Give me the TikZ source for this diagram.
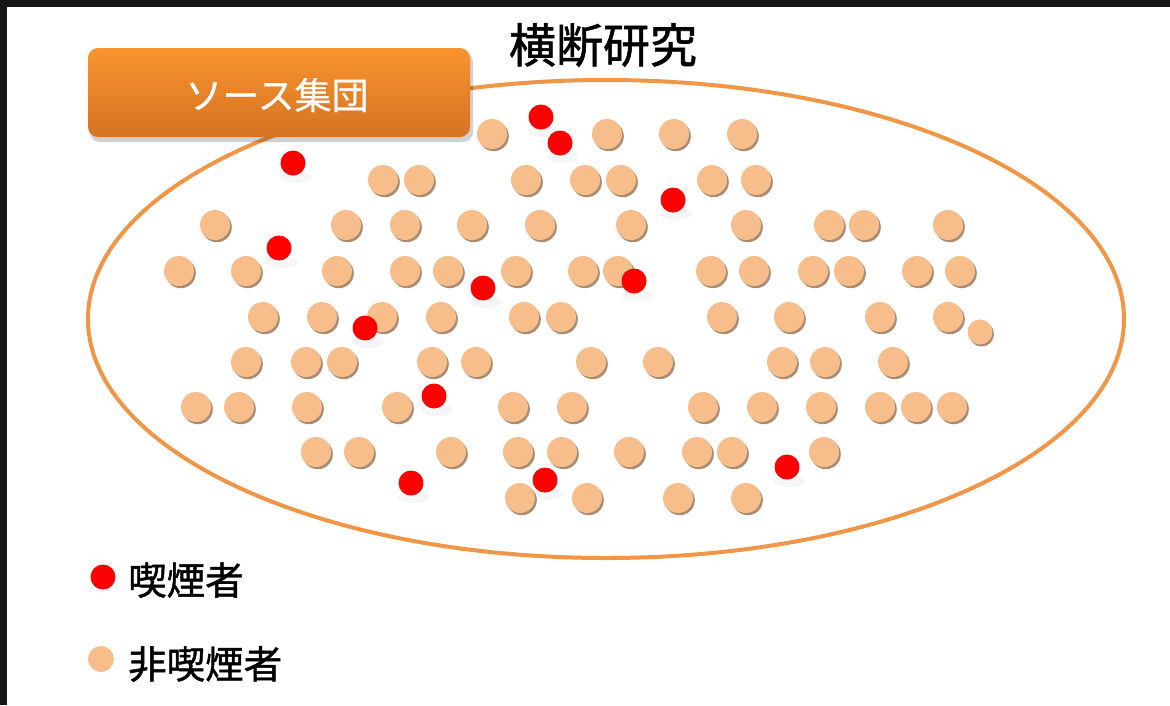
\documentclass[tikz,border=0pt]{standalone}
\usepackage{fontspec}
\setmainfont{Noto Sans CJK JP}
\newfontfamily\cjk[FakeBold=1.2]{Noto Sans CJK JP}
\newfontfamily\cjklight[FakeBold=0.6]{Noto Sans CJK JP}
\definecolor{peach}{RGB}{247,190,140}
\definecolor{peachshadow}{RGB}{170,140,115}
\definecolor{smokered}{RGB}{255,0,0}
\definecolor{ringorange}{RGB}{240,150,70}
\definecolor{boxtop}{RGB}{249,148,46}
\definecolor{boxbottom}{RGB}{212,115,35}
\definecolor{framedark}{RGB}{22,22,22}
\tikzset{
  peachdot/.style={circle, fill=peach, draw=none, inner sep=0pt, minimum size=30pt},
  smalldot/.style={circle, fill=peach, draw=none, inner sep=0pt, minimum size=25pt},
  reddot/.style={circle, fill=smokered, draw=none, inner sep=0pt, minimum size=25pt},
  legendtext/.style={anchor=west, inner sep=0pt, font=\cjk\fontsize{38.5}{38.5}\selectfont, text=black},
}
\begin{document}
\begin{tikzpicture}[x=1pt,y=-1pt]
\useasboundingbox (0,0) rectangle (1170,705);
\fill[white] (0,0) rectangle (1170,705);
\fill[framedark] (0,0) rectangle (1170,7);
\fill[framedark] (0,0) rectangle (7,705);
% ellipse
\draw[ringorange, line width=4pt] (606,319) ellipse [x radius=518pt, y radius=239pt];
% box shadow and box
\fill[black, opacity=0.18, rounded corners=10pt] (90,52) rectangle (473,142);
\shade[top color=boxtop, bottom color=boxbottom, rounded corners=10pt] (88,48) rectangle (470,137);
\node[inner sep=0pt, text=white, font=\cjklight\fontsize{37}{37}\selectfont] (src) at (277,95) {ソース集団};
% title
\node[inner sep=0pt, text=black, font=\cjk\fontsize{47}{47}\selectfont] (title) at (603,45) {横断研究};
% peach dots
\foreach \px/\py [count=\i] in {
492/134, 607/134, 674/134, 742/134,
383/180, 419/180, 526/180, 585/180, 621/180, 712/180, 756/180,
215/225, 346/225, 405/225, 472/225, 540/225, 631/225, 746/225, 829/225, 864/225, 948/225,
179/271, 246/271, 337/271, 405/271, 448/271, 516/271, 583/271, 618/271, 711/271, 754/271, 813/271, 849/271, 917/271, 960/271,
263/317, 322/317, 382/317, 441/317, 524/317, 561/317, 722/317, 789/317, 880/317, 948/317,
246/362, 306/362, 342/362, 432/362, 476/362, 591/362, 658/362, 782/362, 825/362, 893/362,
196/407, 239/407, 307/407, 397/407, 513/407, 572/407, 703/407, 762/407, 821/407, 880/407, 916/407, 952/407,
316/452, 359/452, 451/452, 518/452, 562/452, 629/452, 697/452, 732/452, 824/452,
520/498, 587/498, 678/498, 746/498}{
  \fill[peachshadow] (\px+1.8,\py+2.2) circle (15pt);
  \node[peachdot] (p\i) at (\px,\py) {};
}
\fill[peachshadow] (981.5,334) circle (12.5pt);
\node[smalldot] (psmall) at (980,332) {};
% red dots
\foreach \rx/\ry [count=\j] in {
541/117, 560/143, 293/163, 673/200, 279/248, 483/288, 634/281, 365/328, 434/396, 787/467, 411/483, 545/480}{
  \fill[black, opacity=0.035] (\rx+3,\ry+14) ellipse [x radius=16pt, y radius=6pt];
  \node[reddot] (r\j) at (\rx,\ry) {};
}
% legend
\node[reddot] (legred) at (103,577) {};
\node[legendtext] (legredtext) at (128,580) {喫煙者};
\node[circle, fill=peach, inner sep=0pt, minimum size=26pt] (legpeach) at (101,659) {};
\node[legendtext] (legpeachtext) at (128,664) {非喫煙者};
\end{tikzpicture}
\end{document}
